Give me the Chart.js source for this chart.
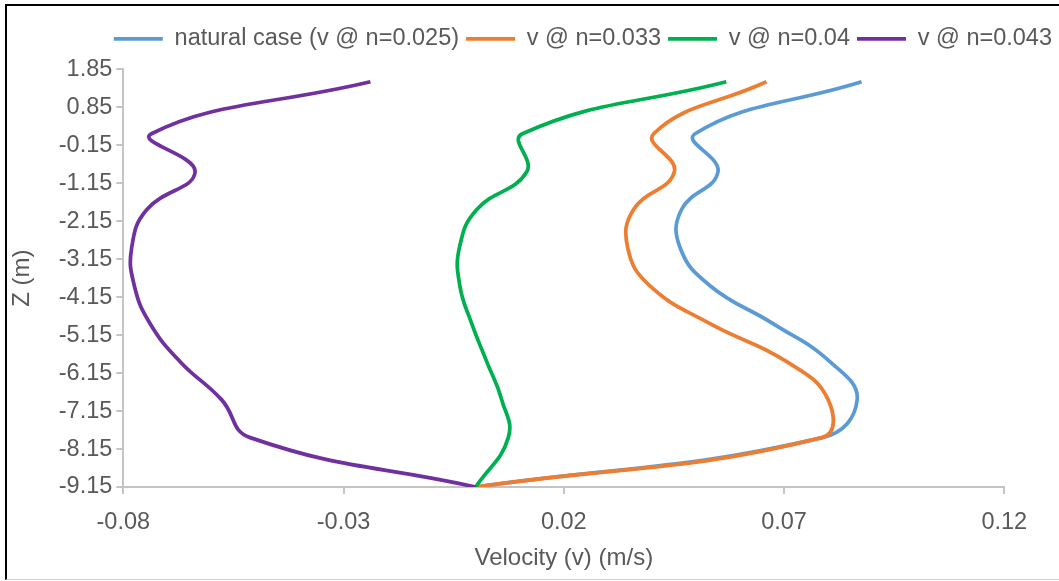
<!DOCTYPE html>
<html>
<head>
<meta charset="utf-8">
<script src="https://cdn.jsdelivr.net/npm/chart.js@4.4.1/dist/chart.umd.min.js"></script>
<style>
    html, body { margin: 0; padding: 0; background: #fff; overflow: hidden; }
    #wrap { position: relative; width: 1059px; height: 581px; }
    #frame {
        position: absolute; left: 5px; top: 4px; width: 1060px; height: 573px;
        border-top: 2px solid #000; border-left: 2px solid #000; border-bottom: 1px solid #d0d0d0;
        pointer-events: none;
    }
</style>
</head>
<body>
<div id="wrap">
    <canvas id="chart" width="1059" height="581"></canvas>
    <div id="frame"></div>
</div>
<script>
// ---------- DATA ----------
const depths = [1.52, 0.15, -0.85, -1.85, -2.85, -3.85, -4.85, -5.85, -6.85, -7.85, -9.15];

const vNatural = [0.0876, 0.0498, 0.0550, 0.0467, 0.0464, 0.0532, 0.0675, 0.0804, 0.0866, 0.0787, 0.0];
const vN033    = [0.0660, 0.0404, 0.0451, 0.0358, 0.0345, 0.0395, 0.0532, 0.0706, 0.0800, 0.0786, 0.0];
const vN040    = [0.0569, 0.0106, 0.0116, 0.0002, -0.0037, -0.0036, -0.0009, 0.0025, 0.0059, 0.0074, 0.0];
const vN043    = [-0.0239, -0.0736, -0.0637, -0.0747, -0.0781, -0.0775, -0.0739, -0.0671, -0.0577, -0.0512, 0.0];

const seriesLabels = ['natural case (v @ n=0.025)', 'v @ n=0.033', 'v @ n=0.04', 'v @ n=0.043'];
const seriesValues = [vNatural, vN033, vN040, vN043];
const seriesColors = ['#5B9BD5', '#ED7D31', '#00B050', '#7030A0'];

const xMin = -0.08, xMax = 0.12, xStep = 0.05;
const zMin = -9.15, zMax = 1.85, zStep = 1;

// ---------- STYLE ----------
const FONT = "'Liberation Sans', Arial, sans-serif";
const TEXT = '#595959';
const AXIS = '#c4c4c4';

const datasets = seriesValues.map((vals, i) => ({
    label: seriesLabels[i],
    data: depths.map((z, k) => ({ x: vals[k], y: z })),
    borderColor: seriesColors[i],
    backgroundColor: seriesColors[i],
    borderWidth: 3.75,
    showLine: true,
    fill: false,
    pointRadius: 0,
    pointHoverRadius: 0,
    tension: 0.45,
    order: seriesValues.length - i   // later series drawn on top, like Excel
}));

new Chart(document.getElementById('chart'), {
    type: 'scatter',
    data: { datasets },
    options: {
        responsive: false,
        animation: false,
        devicePixelRatio: 1,
        layout: { padding: { top: 20, left: 0, right: 0, bottom: 0 } },
        plugins: {
            tooltip: { enabled: false },
            legend: {
                position: 'top',
                align: 'end',
                labels: {
                    usePointStyle: true,
                    pointStyle: 'line',
                    pointStyleWidth: 49,
                    padding: 7,
                    color: TEXT,
                    font: { family: FONT, size: 23.5 },
                    sort: (a, b) => a.datasetIndex - b.datasetIndex
                }
            },
            // empty spacer between legend and plot
            title: {
                display: true,
                text: '',
                weight: 500,
                font: { size: 1, lineHeight: 1 },
                padding: { top: 0, bottom: 7.7 }
            }
        },
        scales: {
            x: {
                type: 'linear',
                position: 'bottom',
                min: xMin,
                max: xMax,
                afterFit: s => { s.height = 94; },
                ticks: {
                    stepSize: xStep,
                    autoSkip: false,
                    maxRotation: 0,
                    padding: 14,
                    color: TEXT,
                    font: { family: FONT, size: 23.5 },
                    callback: v => Number(v).toFixed(2)
                },
                grid: { drawOnChartArea: false, drawTicks: true, tickLength: 7, color: AXIS, lineWidth: 2 },
                border: { color: AXIS, width: 2 },
                title: {
                    display: true,
                    text: 'Velocity (v) (m/s)',
                    color: TEXT,
                    font: { family: FONT, size: 24 },
                    padding: { top: 0, bottom: 8 }
                }
            },
            y: {
                type: 'linear',
                position: 'left',
                min: zMin,
                max: zMax,
                afterFit: s => { s.width = 123.3; },
                ticks: {
                    stepSize: zStep,
                    autoSkip: false,
                    padding: 4,
                    color: TEXT,
                    font: { family: FONT, size: 23.5 },
                    callback: v => Number(v).toFixed(2)
                },
                grid: { drawOnChartArea: false, drawTicks: true, tickLength: 7, color: AXIS, lineWidth: 2 },
                border: { color: AXIS, width: 2 },
                title: {
                    display: true,
                    text: 'Z (m)',
                    color: TEXT,
                    font: { family: FONT, size: 24 },
                    padding: { top: 8, bottom: 0 }
                }
            },
            // blank space on the right side of the plot
            pad: {
                type: 'linear',
                axis: 'y',
                position: 'right',
                display: true,
                afterFit: s => { s.width = 54.7; },
                ticks: { display: false },
                grid: { display: false },
                border: { display: false }
            }
        }
    }
});
</script>
</body>
</html>
